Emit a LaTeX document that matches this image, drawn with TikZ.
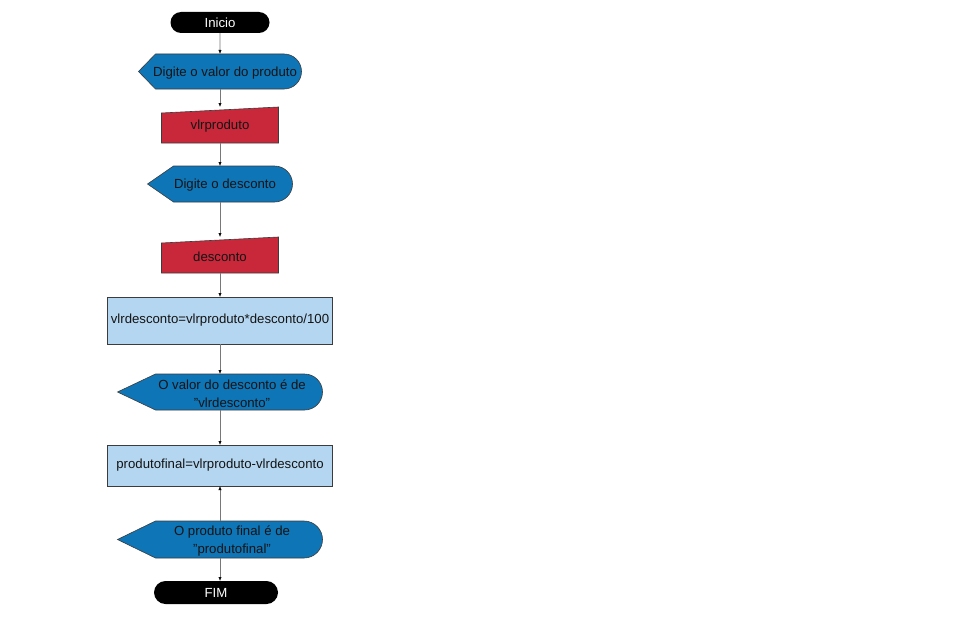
\documentclass[tikz,border=0pt]{standalone}
\usepackage{fontspec}
\setmainfont{Liberation Sans}
\usetikzlibrary{arrows.meta,backgrounds,shapes.misc}

\definecolor{dispblue}{RGB}{14,117,183}
\definecolor{inred}{RGB}{200,40,58}
\definecolor{procblue}{RGB}{180,214,240}
\definecolor{edgegray}{RGB}{60,60,60}
\definecolor{linkgray}{RGB}{120,120,120}
\definecolor{ink}{RGB}{20,20,20}

\newcommand\flowfont{\fontsize{13.2}{18}\selectfont}

% display symbol: pointed left end, rounded right end
% #1 node, #2 depth of the point, #3 radius of the round end
\newcommand\displayshape[3]{%
  \filldraw[fill=dispblue, draw=edgegray, line width=0.6pt]
    (#1.west) -- ([xshift=#2]#1.north west) -- ([xshift=-#3]#1.north east)
    arc[start angle=90, end angle=-90, radius=#3]
    -- ([xshift=#2]#1.south west) -- cycle;}

% manual input symbol: top edge slanting up to the right
\newcommand\inputshape[1]{%
  \filldraw[fill=inred, draw=edgegray, line width=0.6pt]
    (#1.south west) -- ([yshift=-6pt]#1.north west) -- (#1.north east)
    -- (#1.south east) -- cycle;}

\tikzset{
  x=1pt, y=1pt,
  blk/.style={inner sep=0pt, outer sep=0pt, font=\flowfont, text=ink},
  term/.style={blk, rounded rectangle, fill=black, text=white},
  disp/.style={blk, minimum height=35pt},
  inp/.style={blk, minimum width=117pt, minimum height=36pt},
  proc/.style={blk, draw=edgegray, line width=0.6pt, fill=procblue,
               minimum width=225pt},
  txt/.style={font=\flowfont, text=ink, align=center, inner sep=0pt, yshift=-1.5pt},
  link/.style={draw=linkgray, line width=0.6pt,
               -{Latex[length=4pt, width=3.2pt, color=black]}}
}

\begin{document}
\begin{tikzpicture}
\useasboundingbox (0,0) rectangle (960,-618);

\node[term, minimum width=99pt, minimum height=21pt] (inicio) at (220,-22.5) {Inicio};

\node[disp, minimum width=163pt,
      label={[txt, xshift=5pt]center:{Digite o valor do produto}}] (d1) at (220,-71.5) {};

\node[inp, label={[txt]center:{vlrproduto}}] (vlrprod) at (220,-125) {};

\node[disp, minimum width=145pt, minimum height=36pt,
      label={[txt, xshift=5pt]center:{Digite o desconto}}] (d2) at (220,-184) {};

\node[inp, label={[txt]center:{desconto}}] (desc) at (220,-255) {};

\node[proc, minimum height=47pt] (calc1) at (220,-320.5) {vlrdesconto=vlrproduto*desconto/100};

\node[disp, minimum width=205pt, minimum height=36pt,
      label={[txt, xshift=12pt]center:{O valor do desconto é de\\"vlrdesconto"}}] (d3) at (220,-392) {};

\node[proc, minimum height=41pt] (calc2) at (220,-465.5) {produtofinal=vlrproduto-vlrdesconto};

\node[disp, minimum width=205pt, minimum height=37pt,
      label={[txt, xshift=12pt]center:{O produto final é de\\"produtofinal"}}] (d4) at (220,-539.5) {};

\node[term, minimum width=124pt, minimum height=23pt] (fim) at (216,-592.5) {FIM};

\begin{scope}[on background layer]
  \fill[white] (0,0) rectangle (960,-618);
  \displayshape{d1}{17pt}{17.5pt}
  \inputshape{vlrprod}
  \displayshape{d2}{26pt}{18pt}
  \inputshape{desc}
  \displayshape{d3}{38pt}{18pt}
  \displayshape{d4}{38pt}{18.5pt}
\end{scope}

\draw[link] (inicio) -- (d1);
\draw[link] (d1) -- (vlrprod);
\draw[link] (vlrprod) -- (d2);
\draw[link] (d2) -- (desc);
\draw[link] (desc) -- (calc1);
\draw[link] (calc1) -- (d3);
\draw[link] (d3) -- (calc2);
\draw[link] (d4) -- (calc2);
\draw[link] (d4.south) -- (d4.south |- fim.north);
\end{tikzpicture}
\end{document}
